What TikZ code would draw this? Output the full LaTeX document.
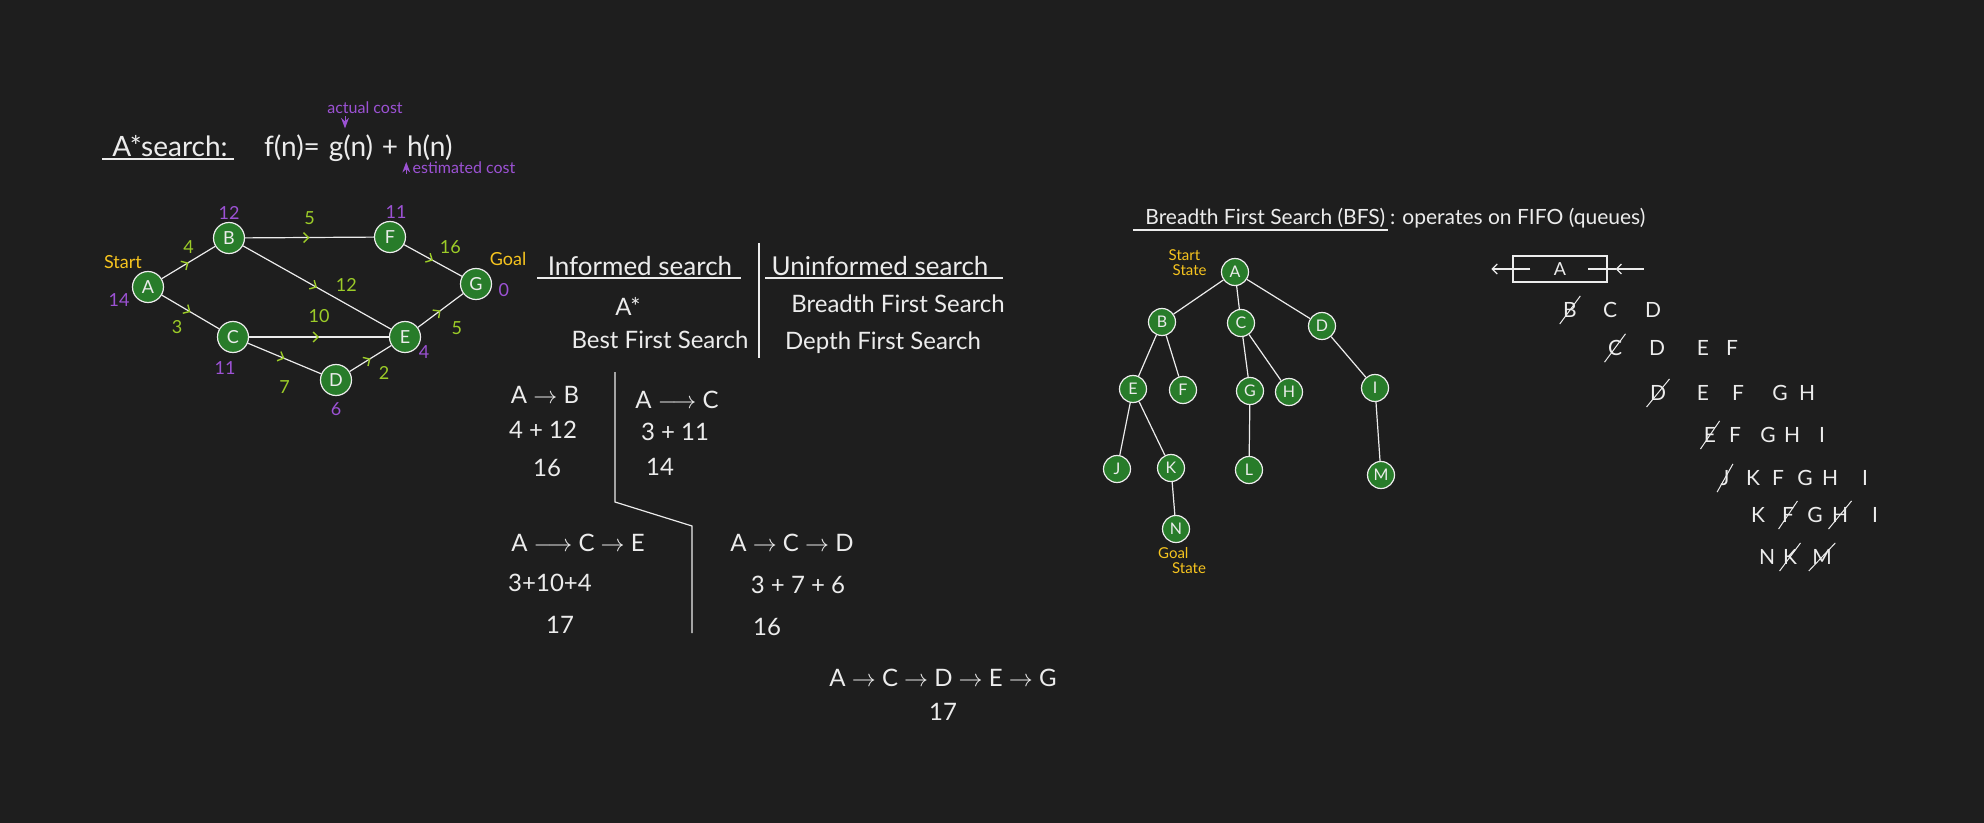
\documentclass[tikz,border=0pt]{standalone}
\usepackage{fontspec}
\setmainfont{Lato}
\usepackage{tikz}
\usetikzlibrary{arrows.meta,shapes.misc,positioning,decorations.markings}
\definecolor{boardbg}{RGB}{30,30,30}
\definecolor{chalk}{RGB}{236,236,236}
\definecolor{nodegreen}{RGB}{40,124,42}
\definecolor{costgreen}{RGB}{156,204,40}
\definecolor{heurpurple}{RGB}{156,82,212}
\definecolor{markyellow}{RGB}{246,196,30}
\newcommand{\fsz}[1]{\fontsize{#1}{#1}\selectfont}

\begin{document}
\begin{tikzpicture}[x=0.5pt, y=-0.5pt, >=Stealth, text=chalk,
      gnode/.style={draw=chalk, circle, fill=nodegreen, line width=0.6pt,
                    minimum size=15.5pt, inner sep=0pt, font=\fsz{9}},
      tnode/.style={gnode, minimum size=13.5pt, font=\fsz{8}},
      link/.style={draw=chalk, line width=0.6pt},
      cost/.style={link, postaction={decorate, decoration={markings,
          mark=at position 0.5 with {\arrow[color=costgreen, line width=0.7pt]{Straight Barb[length=2.5pt, width=5pt]}}}}},
      gnum/.style={text=costgreen, font=\fsz{9}, inner sep=1pt},
      hnum/.style={text=heurpurple, font=\fsz{9}, inner sep=1pt},
      tag/.style={text=markyellow, font=\fsz{9}, inner sep=1pt},
      hw/.style={font=\fsz{12}, inner sep=1pt},
      big/.style={font=\fsz{14}, inner sep=1pt},
      qtxt/.style={font=\fsz{10.5}, inner sep=1pt},
      crossed/.style={qtxt, strike out, draw=chalk, line width=0.5pt,
                      inner xsep=1.5pt, inner ysep=3pt}
    ]
    \fill[boardbg] (0,0) rectangle (1984,823);
    \useasboundingbox (0,0) rectangle (1984,823);

    % A* formula
    \node[big] (astar) at (170,146) {A*search:};
    \draw[link] ([xshift=-4pt]astar.south west) -- ([xshift=2pt]astar.south east);
    \node[big] (fofn) at (292,148) {f(n)=};
    \node[big, right=2pt of fofn] (gofn) {g(n)};
    \node[big, right=2pt of gofn] (plus) {+};
    \node[big, right=2pt of plus] (hofn) {h(n)};
    \node[hnum, font=\fsz{8}] (actual) at (365,108) {actual cost};
    \node[hnum, font=\fsz{8}] (estim) at (464,168) {estimated cost};
    \draw[->, heurpurple, line width=0.5pt] ([xshift=-10pt]actual.south) -- ++(0,12);
    \draw[->, heurpurple, line width=0.5pt] ([xshift=-2pt, yshift=-3pt]estim.west) -- ++(0,-12);

    % weighted graph
    \node[gnode] (a) at (148,287) {A};
    \node[gnode] (b) at (229,238) {B};
    \node[gnode] (f) at (390,237) {F};
    \node[gnode] (g) at (476,284) {G};
    \node[gnode] (c) at (233,337) {C};
    \node[gnode] (e) at (405,337) {E};
    \node[gnode] (d) at (336,380) {D};

    \draw[cost] (a) -- node[gnum, above=3pt] {4} (b);
    \draw[cost] (b) -- node[gnum, above=5pt] {5} (f);
    \draw[cost] (f) -- node[gnum, above right=3pt] {16} (g);
    \draw[cost] (b) -- node[gnum, pos=0.6, above right=1pt] {12} (e);
    \draw[cost] (a) -- node[gnum, below left=4pt] {3} (c);
    \draw[cost] (c) -- node[gnum, above=6pt] {10} (e);
    \draw[cost] (e) -- node[gnum, below right=6pt] {5} (g);
    \draw[cost] (c) -- node[gnum, below=10pt] {7} (d);
    \draw[cost] (d) -- node[gnum, below right=4pt] {2} (e);

    \node[hnum, left=0pt of a, yshift=-6.5pt] (ha) {14};
    \node[hnum, above=0pt of b] (hb) {12};
    \node[hnum, above=0pt of f, xshift=3pt] (hf) {11};
    \node[hnum, right=2pt of g, yshift=-3pt] (hg) {0};
    \node[hnum, below=3pt of c, xshift=-4pt] (hc) {11};
    \node[hnum, below right=-2.5pt and 0pt of e] (he) {4};
    \node[hnum, below=2pt of d] (hd) {6};
    \node[tag, above=0pt of a, xshift=-12.5pt] (start) {Start};
    \node[tag, above=0pt of g, xshift=16pt] (goal) {Goal};

    % informed vs uninformed
    \node[big, font=\fsz{13}] (inf) at (640,266) {Informed search};
    \node[big, font=\fsz{13}] (uninf) at (880,266) {Uninformed search};
    \draw[link] ([xshift=-4pt]inf.south west) -- ([xshift=3pt]inf.south east);
    \draw[link] ([xshift=-2pt]uninf.south west) -- ([xshift=6pt]uninf.south east);
    \coordinate (splittop) at (759,243);
    \coordinate (splitbot) at (759,358);
    \draw[link] (splittop) -- (splitbot);
    \node[hw] (astarlist) at (628,306) {A*};
    \node[hw] (bestfs) at (660,340) {Best First Search};
    \node[hw] (bfslist) at (898,304) {Breadth First Search};
    \node[hw] (dfslist) at (883,343) {Depth First Search};

    % path costs
    \node[hw] (pab) at (545,395) {A $\rightarrow$ B};
    \node[hw] (sab) at (543,430) {4 + 12};
    \node[hw] (tab) at (547,468) {16};
    \node[hw] (pac) at (677,400) {A $\longrightarrow$ C};
    \node[hw] (sac) at (675,432) {3 + 11};
    \node[hw] (tac) at (660,467) {14};
    \node[hw] (pace) at (578,543) {A $\longrightarrow$ C $\rightarrow$ E};
    \node[hw] (sace) at (550,583) {3+10+4};
    \node[hw] (tace) at (560,625) {17};
    \node[hw] (pacd) at (792,543) {A $\rightarrow$ C $\rightarrow$ D};
    \node[hw] (sacd) at (798,585) {3 + 7 + 6};
    \node[hw] (tacd) at (767,627) {16};
    \node[hw] (pbest) at (943,678) {A $\rightarrow$ C $\rightarrow$ D $\rightarrow$ E $\rightarrow$ G};
    \node[hw] (tbest) at (943,712) {17};
    \coordinate (cut1) at (615,372);
    \coordinate (cut2) at (615,502);
    \coordinate (cut3) at (692,526);
    \coordinate (cut4) at (692,633);
    \draw[link] (cut1) -- (cut2) -- (cut3) -- (cut4);

    % BFS tree
    \node[font=\fsz{10.5}, inner sep=1pt, anchor=west] (bfstitle) at (1143,218) {Breadth First Search (BFS)};
    \node[font=\fsz{10.5}, inner sep=1pt, right=0pt of bfstitle] (bfsnote) {: operates on FIFO (queues)};
    \draw[link] ([xshift=-5pt]bfstitle.south west) -- (bfstitle.south east);

    \node[tnode] (ta) at (1235,272) {A};
    \node[tnode] (tb) at (1162,322) {B};
    \node[tnode] (tc) at (1241,323) {C};
    \node[tnode] (td) at (1322,326) {D};
    \node[tnode] (te) at (1133,389) {E};
    \node[tnode] (tf) at (1183,390) {F};
    \node[tnode] (tg) at (1250,391) {G};
    \node[tnode] (th) at (1289,392) {H};
    \node[tnode] (ti) at (1375,388) {I};
    \node[tnode] (tj) at (1117,469) {J};
    \node[tnode] (tk) at (1171,468) {K};
    \node[tnode] (tl) at (1249,470) {L};
    \node[tnode] (tm) at (1381,475) {M};
    \node[tnode] (tn) at (1176,529) {N};
    \foreach \p/\q in {ta/tb, ta/tc, ta/td, tb/te, tb/tf, tc/tg, tc/th,
                       td/ti, te/tj, te/tk, tg/tl, ti/tm, tk/tn}
      \draw[link] (\p) -- (\q);
    \node[tag, font=\fsz{7.5}, align=left, left=6pt of ta, yshift=4.5pt] (tstart) {Start\\\hspace*{2pt}State};
    \node[tag, font=\fsz{7.5}, align=left, below=1pt of tn, xshift=3pt] (tgoal) {Goal\\\hspace*{7pt}State};

    % FIFO queue
    \node[draw=chalk, line width=0.6pt, minimum width=47pt, minimum height=13pt,
          inner sep=0pt, font=\fsz{9}] (qbox) at (1560,269) {A};
    \draw[link, -{Straight Barb[length=2.5pt, width=5pt]}] ([xshift=9pt]qbox.west) -- ([xshift=-10.5pt]qbox.west);
    \draw[link, -{Straight Barb[length=2.5pt, width=5pt]}] ([xshift=18pt]qbox.east) -- ([xshift=4pt]qbox.east);
    \draw[link] ([xshift=4pt]qbox.east) -- ([xshift=-10pt]qbox.east);

    \node[crossed] (r1B) at (1570,310) {B};
    \foreach \l/\x in {C/1610, D/1653}
      \node[qtxt] (r1\l) at (\x,310) {\l};
    \node[crossed] (r2C) at (1615,348) {C};
    \foreach \l/\x in {D/1657, E/1703, F/1732}
      \node[qtxt] (r2\l) at (\x,348) {\l};
    \node[crossed] (r3D) at (1658,393) {D};
    \foreach \l/\x in {E/1703, F/1738, G/1780, H/1807}
      \node[qtxt] (r3\l) at (\x,393) {\l};
    \node[crossed] (r4E) at (1710,435) {E};
    \foreach \l/\x in {F/1735, G/1768, H/1792, I/1822}
      \node[qtxt] (r4\l) at (\x,435) {\l};
    \node[crossed] (r5J) at (1725,478) {J};
    \foreach \l/\x in {K/1753, F/1778, G/1805, H/1830, I/1865}
      \node[qtxt] (r5\l) at (\x,478) {\l};
    \foreach \l/\x in {K/1758, G/1815, I/1875}
      \node[qtxt] (r6\l) at (\x,515) {\l};
    \node[crossed] (r6F) at (1788,515) {F};
    \node[crossed] (r6H) at (1840,515) {H};
    \node[qtxt] (r7N) at (1767,557) {N};
    \node[crossed] (r7K) at (1790,557) {K};
    \node[crossed] (r7M) at (1822,557) {M};
  \end{tikzpicture}
\end{document}
